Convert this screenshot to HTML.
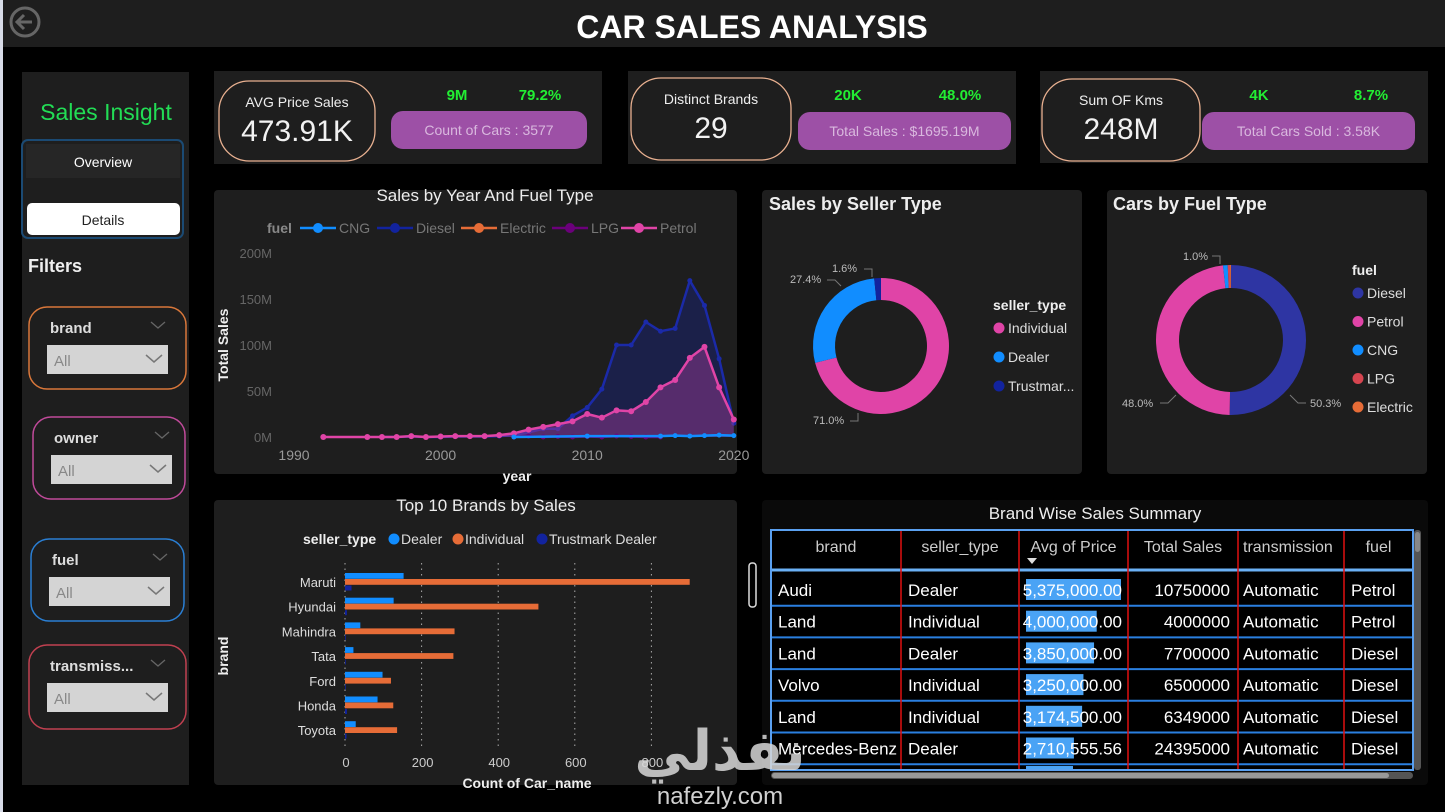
<!DOCTYPE html>
<html><head><meta charset="utf-8">
<style>
html,body{margin:0;padding:0;background:#000;width:1445px;height:812px;overflow:hidden}
svg{display:block;font-family:"Liberation Sans","Noto Sans CJK SC",sans-serif}
</style></head>
<body>
<svg id="dash" width="1445" height="812" viewBox="0 0 1445 812">
<rect x="0" y="0" width="1445" height="812" fill="#000"/>
<rect x="0" y="0" width="1445" height="47" fill="#1e1e1e"/>
<rect x="0" y="0" width="3" height="812" fill="#d8dce8"/>
<g><circle cx="25" cy="22" r="14" fill="none" stroke="#666" stroke-width="3"/><path d="M32 22H18M24 15l-7 7 7 7" fill="none" stroke="#666" stroke-width="3"/></g>
<text x="752" y="38" text-anchor="middle" fill="#fff" font-size="32" font-weight="bold">CAR SALES ANALYSIS</text>

<!-- sidebar -->
<rect x="22" y="72" width="167" height="713" fill="#1e1e1e"/>
<text x="106" y="120" text-anchor="middle" fill="#22dd55" font-size="23">Sales Insight</text>
<rect x="22" y="140" width="161" height="98" rx="6" fill="none" stroke="#1b4a73" stroke-width="2"/>
<rect x="26" y="144" width="154" height="34" fill="#262626"/>
<text x="103" y="167" text-anchor="middle" fill="#fff" font-size="14">Overview</text>
<rect x="27" y="203" width="153" height="32" rx="5" fill="#fff"/>
<text x="103" y="225" text-anchor="middle" fill="#222" font-size="14">Details</text>
<text x="28" y="272" fill="#eee" font-size="18" font-weight="bold">Filters</text>
<g id="filters"></g>

<!-- KPI cards -->
<g id="kpis"></g>

<!-- panels -->
<rect x="214" y="190" width="523" height="284" rx="4" fill="#1e1e1e"/>
<rect x="762" y="190" width="320" height="284" rx="4" fill="#1e1e1e"/>
<rect x="1107" y="190" width="320" height="284" rx="4" fill="#1e1e1e"/>
<rect x="214" y="500" width="523" height="285" rx="4" fill="#1e1e1e"/>
<rect x="762" y="500" width="666" height="285" rx="4" fill="#0a0a0a"/>

<g id="line-chart"></g>
<g id="seller-donut"></g>
<g id="fuel-donut"></g>
<g id="bar-chart"></g>
<g id="table"></g>

<text x="720" y="770" text-anchor="middle" fill="#d8d8d8" font-size="56" font-weight="bold" opacity="0.85" font-family="'DejaVu Sans',sans-serif">نفذلي</text>
<text x="720" y="804" text-anchor="middle" fill="#d0d0d0" font-size="24">nafezly.com</text>
</svg>
<script>
const NS="http://www.w3.org/2000/svg";
function mk(parent,tag,attrs,txt){const e=document.createElementNS(NS,tag);for(const k in attrs)e.setAttribute(k,attrs[k]);if(txt!==undefined)e.textContent=txt;parent.appendChild(e);return e;}

// ---------- filters ----------
const filterNames=["brand","owner","fuel","transmiss..."];
const filterBoxes=[[29,307,157,82,"#d9773a"],[33,417,152,82,"#c04a9a"],[31,539,153,82,"#2a7fd4"],[29,645,157,84,"#c04050"]];
const fg=document.getElementById("filters");
filterNames.forEach((n,i)=>{
  const [x,y,w,h,c]=filterBoxes[i];
  const g=mk(fg,"g",{});
  
  
  mk(g,"rect",{x:x,y:y,width:w,height:h,rx:18,fill:"none",stroke:c,"stroke-width":1.5});
  mk(g,"text",{x:x+21,y:y+26,fill:"#ddd","font-size":15,"font-weight":"bold"},n);
  mk(g,"path",{d:`M${x+122} ${y+15}l7 6 7-6`,fill:"none",stroke:"#666","stroke-width":1.3});
  mk(g,"rect",{x:x+18,y:y+38,width:121,height:29,fill:"#d4d4d4"});
  mk(g,"text",{x:x+25,y:y+59,fill:"#888","font-size":15},"All");
  mk(g,"path",{d:`M${x+117} ${y+48}l8 7 8-7`,fill:"none",stroke:"#777","stroke-width":1.5});
});

// ---------- KPIs ----------
const kpiTitles=["AVG Price Sales","Distinct Brands","Sum OF Kms"];
const kpiValues=["473.91K","29","248M"];
const kpiSmall1=["9M","20K","4K"];
const kpiSmall2=["79.2%","48.0%","8.7%"];
const kpiPills=["Count of Cars : 3577","Total Sales : $1695.19M","Total Cars Sold : 3.58K"];
const kpiPanels=[[214,71,388,93],[628,71,388,93],[1040,71,388,92]];
const kpiBoxes=[[219,81,156,80],[631,78,160,82],[1042,79,158,82]];
const kpiPillBox=[[391,111,196,38],[798,112,213,38],[1202,112,213,38]];
const kpiSmallX=[[457,540],[848,960],[1259,1371]];
const kg=document.getElementById("kpis");
kpiTitles.forEach((t,i)=>{
  const [px,py,pw,ph]=kpiPanels[i];
  const g=mk(kg,"g",{});
  
  
  mk(g,"rect",{x:px,y:py,width:pw,height:ph,fill:"#1e1e1e"});
  const [bx,by,bw,bh]=kpiBoxes[i];
  mk(g,"rect",{x:bx,y:by,width:bw,height:bh,rx:30,fill:"none",stroke:"#e8b090","stroke-width":1.3});
  mk(g,"text",{x:bx+bw/2,y:by+26,"text-anchor":"middle",fill:"#eee","font-size":14},t);
  mk(g,"text",{x:bx+bw/2,y:by+60,"text-anchor":"middle",fill:"#f2f2f2","font-size":30},kpiValues[i]);
  mk(g,"text",{x:kpiSmallX[i][0],y:py+29,"text-anchor":"middle",fill:"#22ee33","font-size":15,"font-weight":"bold"},kpiSmall1[i]);
  mk(g,"text",{x:kpiSmallX[i][1],y:py+29,"text-anchor":"middle",fill:"#22ee33","font-size":15,"font-weight":"bold"},kpiSmall2[i]);
  const [qx,qy,qw,qh]=kpiPillBox[i];
  mk(g,"rect",{x:qx,y:qy,width:qw,height:qh,rx:12,fill:"#9d50a6"});
  mk(g,"text",{x:qx+qw/2,y:qy+24,"text-anchor":"middle",fill:"#d9b8de","font-size":14},kpiPills[i]);
});

// ---------- line chart ----------
const petrolYears=[1992,1995,1996,1997,1998,1999,2000,2001,2002,2003,2004,2005,2006,2007,2008,2009,2010,2011,2012,2013,2014,2015,2016,2017,2018,2019,2020];
const petrolValues=[0,0,0,0,1,0,0.5,1,1,1,2,4,8,11,14,17,25,21,29,28,38,54,62,86,98,54,19];
const dieselYears=[1996,1997,1998,1999,2000,2001,2002,2003,2004,2005,2006,2007,2008,2009,2010,2011,2012,2013,2014,2015,2016,2017,2018,2019,2020];
const dieselValues=[0,0,0.5,0,0,0.5,0.5,0.5,1,2,5,9,9,23,32,52,100,100,125,115,118,170,143,85,15];
const cngYears=[2005,2010,2015,2016,2017,2018,2019,2020];
const cngValues=[0,1,1,1.5,1,1.5,2,1.5];
const lpgYears=[2005,2006,2007,2008,2009,2010,2011,2012,2013,2014,2015];
const lpgValues=[0,1,0,0.5,0,0.5,0,1,0.5,0,0];
const yTicks=[0,50,100,150,200];
const xTicks=[1990,2000,2010,2020];
const fuelLegend=["CNG","Diesel","Electric","LPG","Petrol"];
const fuelLegendColors=["#118dff","#12239e","#e66c37","#6b007b","#e044a7"];
const legendStarts=[300,377,461,552,621];
const lx=y=>294+(y-1990)*14.66;
const ly=v=>437-v*0.92;
const lc=document.getElementById("line-chart");
mk(lc,"text",{x:485,y:201,"text-anchor":"middle",fill:"#eee","font-size":17},"Sales by Year And Fuel Type");
mk(lc,"text",{x:267,y:233,fill:"#888","font-size":14,"font-weight":"bold"},"fuel");
fuelLegend.forEach((f,i)=>{
  const lgx=legendStarts[i];
  const g=mk(lc,"g",{});
  
  
  mk(g,"line",{x1:lgx,y1:228,x2:lgx+36,y2:228,stroke:fuelLegendColors[i],"stroke-width":2.5});
  mk(g,"circle",{cx:lgx+18,cy:228,r:5,fill:fuelLegendColors[i]});
  mk(g,"text",{x:lgx+39,y:233,fill:"#777","font-size":14},f);
});
yTicks.forEach(t=>{
  const e=mk(lc,"text",{x:272,y:ly(t)+5,"text-anchor":"end",fill:"#666","font-size":13},t+"M");
  
  
});
xTicks.forEach(t=>{
  const e=mk(lc,"text",{x:lx(t),y:460,"text-anchor":"middle",fill:"#999","font-size":14},t);
  
  
});
mk(lc,"text",{x:517,y:481,"text-anchor":"middle",fill:"#eee","font-size":14,"font-weight":"bold"},"year");
mk(lc,"text",{x:228,y:345,"text-anchor":"middle",fill:"#eee","font-size":14,"font-weight":"bold",transform:"rotate(-90 228 345)"},"Total Sales");
function series(xs,vs,color,fill,name,dot){
  const g=mk(lc,"g",{});
  
  
  const pts=xs.map((x,i)=>lx(x)+","+ly(vs[i]));
  if(fill){mk(g,"path",{d:"M"+lx(xs[0])+","+ly(0)+"L"+pts.join("L")+"L"+lx(xs[xs.length-1])+","+ly(0)+"Z",fill:fill});}
  mk(g,"polyline",{points:pts.join(" "),fill:"none",stroke:color,"stroke-width":2.5,"stroke-linejoin":"round"});
  xs.forEach((x,i)=>mk(g,"circle",{cx:lx(x),cy:ly(vs[i]),r:dot,fill:color}));
}
series(dieselYears,dieselValues,"#1b2aa8","rgba(25,35,110,0.55)","diesel",2.5);
series(petrolYears,petrolValues,"#e044a7","rgba(160,60,150,0.45)","petrol",3);
series(lpgYears,lpgValues,"#6b007b",null,"lpg",2.5);
series(cngYears,cngValues,"#118dff",null,"cng",2.5);

// ---------- donuts ----------
function donut(gid,cx,cy,ro,ri,vals,cols,names){
  const g=document.getElementById(gid);
  const tot=vals.reduce((a,b)=>a+b,0);let a0=-Math.PI/2;
  vals.forEach((v,i)=>{
    const a1=a0+v/tot*2*Math.PI;const lg=(a1-a0)>Math.PI?1:0;
    const p=`M${cx+ro*Math.cos(a0)},${cy+ro*Math.sin(a0)}A${ro},${ro} 0 ${lg} 1 ${cx+ro*Math.cos(a1)},${cy+ro*Math.sin(a1)}L${cx+ri*Math.cos(a1)},${cy+ri*Math.sin(a1)}A${ri},${ri} 0 ${lg} 0 ${cx+ri*Math.cos(a0)},${cy+ri*Math.sin(a0)}Z`;
    const e=mk(g,"path",{d:p,fill:cols[i]});
    
    
    a0=a1;
  });
}
const sellerNames=["Individual","Dealer","Trustmark"];
const sellerValues=[71.0,27.4,1.6];
const sellerColors=["#e044a7","#118dff","#12239e"];
const sd=document.getElementById("seller-donut");
mk(sd,"text",{x:769,y:210,fill:"#eee","font-size":18,"font-weight":"bold"},"Sales by Seller Type");
donut("seller-donut",881,346,68,46,sellerValues,sellerColors,sellerNames);
[["27.4%",790,283,"M827 280h8l6 6"],["1.6%",832,272,"M864 269h8v8"],["71.0%",813,424,"M850 421h8v-8"]].forEach(l=>{
  mk(sd,"text",{x:l[1],y:l[2],fill:"#bbb","font-size":11},l[0]);mk(sd,"path",{d:l[3],fill:"none",stroke:"#777"});});
mk(sd,"text",{x:993,y:310,fill:"#eee","font-size":14,"font-weight":"bold"},"seller_type");
["Individual","Dealer","Trustmar..."].forEach((n,i)=>{
  mk(sd,"circle",{cx:999,cy:328+i*29,r:5.5,fill:sellerColors[i]});
  mk(sd,"text",{x:1008,y:333+i*29,fill:"#ddd","font-size":14},n);
});
const fuelNames=["Diesel","Petrol","CNG","LPG","Electric"];
const fuelValues=[50.3,48.0,1.0,0.5,0.2];
const fuelColors=["#2e35a3","#e044a7","#118dff","#d64550","#e66c37"];
const fd=document.getElementById("fuel-donut");
mk(fd,"text",{x:1113,y:210,fill:"#eee","font-size":18,"font-weight":"bold"},"Cars by Fuel Type");
donut("fuel-donut",1231,340,75,52,fuelValues,fuelColors,fuelNames);
[["1.0%",1183,260,"M1212 256h8v8"],["48.0%",1122,407,"M1160 403h8l8-8"],["50.3%",1310,407,"M1306 403h-8l-8-8"]].forEach(l=>{
  mk(fd,"text",{x:l[1],y:l[2],fill:"#bbb","font-size":11},l[0]);mk(fd,"path",{d:l[3],fill:"none",stroke:"#777"});});
mk(fd,"text",{x:1352,y:275,fill:"#eee","font-size":14,"font-weight":"bold"},"fuel");
fuelNames.forEach((n,i)=>{
  mk(fd,"circle",{cx:1358,cy:293+i*28.5,r:5.5,fill:fuelColors[i]});
  mk(fd,"text",{x:1367,y:298+i*28.5,fill:"#ddd","font-size":14},n);
});

// ---------- bar chart ----------
const brands=["Maruti","Hyundai","Mahindra","Tata","Ford","Honda","Toyota"];
const dealerCounts=[153,127,40,22,98,85,28];
const individualCounts=[900,505,286,283,120,126,136];
const trustmarkCounts=[17,5,2,2,2,5,4];
const barTicks=[0,200,400,600,800];
const bx=v=>345+v*0.383;
const by=i=>582+i*24.7;
const bc=document.getElementById("bar-chart");
mk(bc,"text",{x:486,y:511,"text-anchor":"middle",fill:"#eee","font-size":17},"Top 10 Brands by Sales");
mk(bc,"text",{x:303,y:544,fill:"#eee","font-size":14,"font-weight":"bold"},"seller_type");
[["Dealer","#118dff",394],["Individual","#e66c37",458],["Trustmark Dealer","#12239e",542]].forEach(l=>{
  mk(bc,"circle",{cx:l[2],cy:539,r:5.5,fill:l[1]});mk(bc,"text",{x:l[2]+7,y:544,fill:"#ddd","font-size":14},l[0]);});
barTicks.forEach(t=>{
  mk(bc,"line",{x1:bx(t),y1:563,x2:bx(t),y2:750,stroke:"#aaa","stroke-dasharray":"1.5,4"});
  const e=mk(bc,"text",{x:bx(t)+1,y:767,"text-anchor":"middle",fill:"#ccc","font-size":13},t);
  
  
});
brands.forEach((b,i)=>{
  const c=by(i);
  mk(bc,"text",{x:336,y:c+5,"text-anchor":"end",fill:"#ddd","font-size":13},b);
  let e=mk(bc,"rect",{x:bx(0),y:c-9,width:bx(dealerCounts[i])-bx(0),height:5.8,fill:"#118dff"});
  
  
  e=mk(bc,"rect",{x:bx(0),y:c-3,width:bx(individualCounts[i])-bx(0),height:5.8,fill:"#e66c37"});
  
  
  e=mk(bc,"rect",{x:bx(0),y:c+3.5,width:bx(trustmarkCounts[i])-bx(0),height:5,fill:"#12239e"});
  
  
});
mk(bc,"text",{x:527,y:788,"text-anchor":"middle",fill:"#eee","font-size":14,"font-weight":"bold"},"Count of Car_name");
mk(bc,"text",{x:228,y:656,"text-anchor":"middle",fill:"#eee","font-size":14,"font-weight":"bold",transform:"rotate(-90 228 656)"},"brand");
mk(bc,"rect",{x:749,y:563,width:7,height:44,rx:3,fill:"none",stroke:"#ddd","stroke-width":1.5});

// ---------- table ----------
const tHeaders=["brand","seller_type","Avg of Price","Total Sales","transmission","fuel"];
const tBrand=["Audi","Land","Land","Volvo","Land","Mercedes-Benz"];
const tSeller=["Dealer","Individual","Dealer","Individual","Individual","Dealer"];
const tAvg=[5375000,4000000,3850000,3250000,3174500,2710555.56];
const tTotal=[10750000,4000000,7700000,6500000,6349000,24395000];
const tTrans=["Automatic","Automatic","Automatic","Automatic","Automatic","Automatic"];
const tFuel=["Petrol","Petrol","Diesel","Diesel","Diesel","Diesel"];
const colX=[771,901,1019,1128,1238,1344,1413];
const tg=document.getElementById("table");
mk(tg,"text",{x:1095,y:519,"text-anchor":"middle",fill:"#eee","font-size":17},"Brand Wise Sales Summary");
mk(tg,"rect",{x:771,y:530,width:642,height:240,fill:"#000"});
tHeaders.forEach((h,i)=>{
  const cx=(colX[i]+colX[i+1])/2;
  const e=mk(tg,"text",{x:i==4?1243:cx,y:552,"text-anchor":i==4?"start":"middle",fill:"#ccc","font-size":16},h);
  
  
});
mk(tg,"path",{d:"M1027 558h10l-5 6z",fill:"#ddd"});
const rowTop=i=>574+i*31.7;
tBrand.forEach((b,i)=>{
  const y=rowTop(i);
  const w=tAvg[i]/5375000*95;
  const e=mk(tg,"rect",{x:1026,y:y+5,width:w,height:21,fill:"#4aa3f5"});
  
  
  const ty=y+22;
  const st={fill:"#fff","font-size":17};
  mk(tg,"text",Object.assign({x:778,y:ty},st),b);
  mk(tg,"text",Object.assign({x:908,y:ty},st),tSeller[i]);
  mk(tg,"text",Object.assign({x:1122,y:ty,"text-anchor":"end"},st),tAvg[i].toLocaleString('en-US',{minimumFractionDigits:2,maximumFractionDigits:2}));
  mk(tg,"text",Object.assign({x:1230,y:ty,"text-anchor":"end"},st),tTotal[i]);
  mk(tg,"text",Object.assign({x:1243,y:ty},st),tTrans[i]);
  mk(tg,"text",Object.assign({x:1351,y:ty},st),tFuel[i]);
  mk(tg,"line",{x1:771,y1:y+31.7,x2:1413,y2:y+31.7,stroke:"#2a7fe0","stroke-width":2});
});
mk(tg,"rect",{x:1026,y:766,width:47,height:4,fill:"#4aa3f5"});
mk(tg,"line",{x1:771,y1:570,x2:1413,y2:570,stroke:"#6ab0f5","stroke-width":3});
colX.slice(1,6).forEach(x=>mk(tg,"line",{x1:x,y1:530,x2:x,y2:770,stroke:"#e01010","stroke-width":1.5}));
mk(tg,"rect",{x:771,y:530,width:642,height:240,fill:"none",stroke:"#5aa0f0","stroke-width":2});
mk(tg,"rect",{x:1414,y:530,width:7,height:240,rx:3,fill:"#555"});
mk(tg,"rect",{x:1415,y:532,width:5,height:20,rx:2.5,fill:"#888"});
const hs=mk(tg,"rect",{x:771,y:772,width:642,height:7,rx:3.5,fill:"#555"});


mk(tg,"rect",{x:772,y:773,width:617,height:5,rx:2.5,fill:"#999"});
</script>
</body></html>
